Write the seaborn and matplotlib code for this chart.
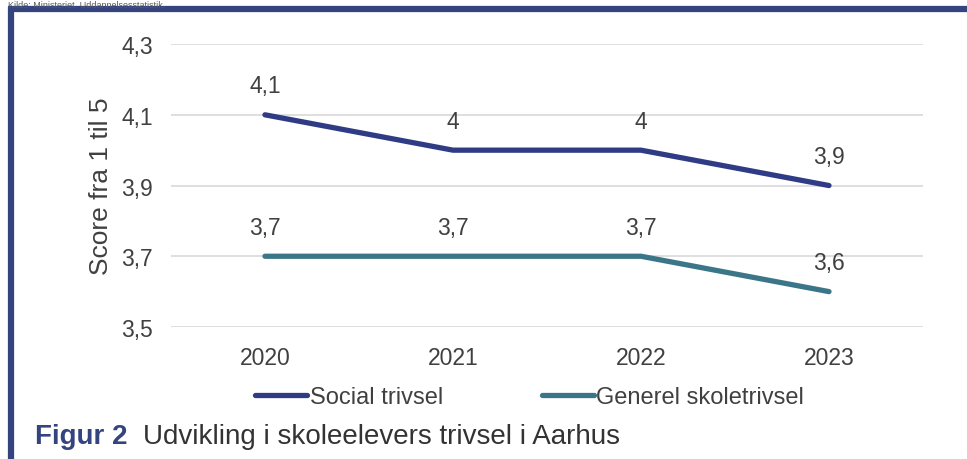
import matplotlib
matplotlib.use("Agg")
import matplotlib.pyplot as plt
import seaborn as sns
import pandas as pd

# data
years = ["2020", "2021", "2022", "2023"]
social = [4.1, 4.0, 4.0, 3.9]
generel = [3.7, 3.7, 3.7, 3.6]
social_labels = ["4,1", "4", "4", "3,9"]
generel_labels = ["3,7", "3,7", "3,7", "3,6"]
yticks = [3.5, 3.7, 3.9, 4.1, 4.3]
ytick_labels = ["3,5", "3,7", "3,9", "4,1", "4,3"]

navy = "#2f3b85"
teal = "#3b7688"
frame = "#34447f"
text_col = "#404040"

sns.set_style("white")
plt.rcParams["font.family"] = ["Liberation Sans", "DejaVu Sans"]

df = pd.DataFrame({
    "year": years * 2,
    "score": social + generel,
    "serie": ["Social trivsel"] * 4 + ["Generel skoletrivsel"] * 4,
})

fig = plt.figure(figsize=(9.67, 4.60), dpi=100)
ax = fig.add_axes([0.1768, 0.287, 0.7777, 0.615])

sns.lineplot(data=df, x="year", y="score", hue="serie",
             palette={"Social trivsel": navy, "Generel skoletrivsel": teal},
             linewidth=3.8, ax=ax, legend=False, sort=False)
for line in ax.lines:
    line.set_solid_capstyle("round")

ax.set_xlim(-0.5, 3.5)
ax.set_ylim(3.5, 4.3)
ax.set_yticks(yticks)
ax.set_yticklabels(ytick_labels)
ax.grid(axis="y", color="#d9d9d9", linewidth=1.2)
ax.set_axisbelow(True)
sns.despine(ax=ax, left=True, bottom=True)
ax.tick_params(axis="both", length=0, labelsize=16.5, colors=text_col)
ax.tick_params(axis="y", pad=13)
ax.tick_params(axis="x", pad=14)
ax.set_xlabel("")
ax.set_ylabel("Score fra 1 til 5", fontsize=19, color=text_col, labelpad=6)

# value labels above each point
for i, (v, lab) in enumerate(zip(social, social_labels)):
    ax.annotate(lab, (i, v), xytext=(0, 21), textcoords="offset points",
                ha="center", va="center", fontsize=16.5, color=text_col)
for i, (v, lab) in enumerate(zip(generel, generel_labels)):
    ax.annotate(lab, (i, v), xytext=(0, 21), textcoords="offset points",
                ha="center", va="center", fontsize=16.5, color=text_col)

# legend below the plot
handles = [plt.Line2D([], [], color=navy, lw=3.8, solid_capstyle="round"),
           plt.Line2D([], [], color=teal, lw=3.8, solid_capstyle="round")]
fig.legend(handles, ["Social trivsel", "Generel skoletrivsel"],
           loc="center", bbox_to_anchor=(0.548, 0.135), ncol=2, frameon=False,
           fontsize=17, handlelength=2.2, handletextpad=0.1, columnspacing=4.2,
           labelcolor=text_col)

# frame lines (top and left)
fig.add_artist(plt.Line2D([0.0083, 1.0], [0.978, 0.978], color=frame, lw=4.5,
                          transform=fig.transFigure, solid_capstyle="butt"))
fig.add_artist(plt.Line2D([0.0114, 0.0114], [0.0, 0.983], color=frame, lw=4.5,
                          transform=fig.transFigure, solid_capstyle="butt"))

# source line above the frame
fig.text(0.008, 0.998, "Kilde: Ministeriet. Uddannelsesstatistik.", fontsize=6.5,
         color="#595959", va="top", ha="left")

# caption
fig.text(0.036, 0.05, "Figur 2", fontsize=20, color=frame, fontweight="bold",
         va="center", ha="left")
fig.text(0.148, 0.05, "Udvikling i skoleelevers trivsel i Aarhus", fontsize=20,
         color="#333333", va="center", ha="left")

fig.savefig("out.png", dpi=100)
